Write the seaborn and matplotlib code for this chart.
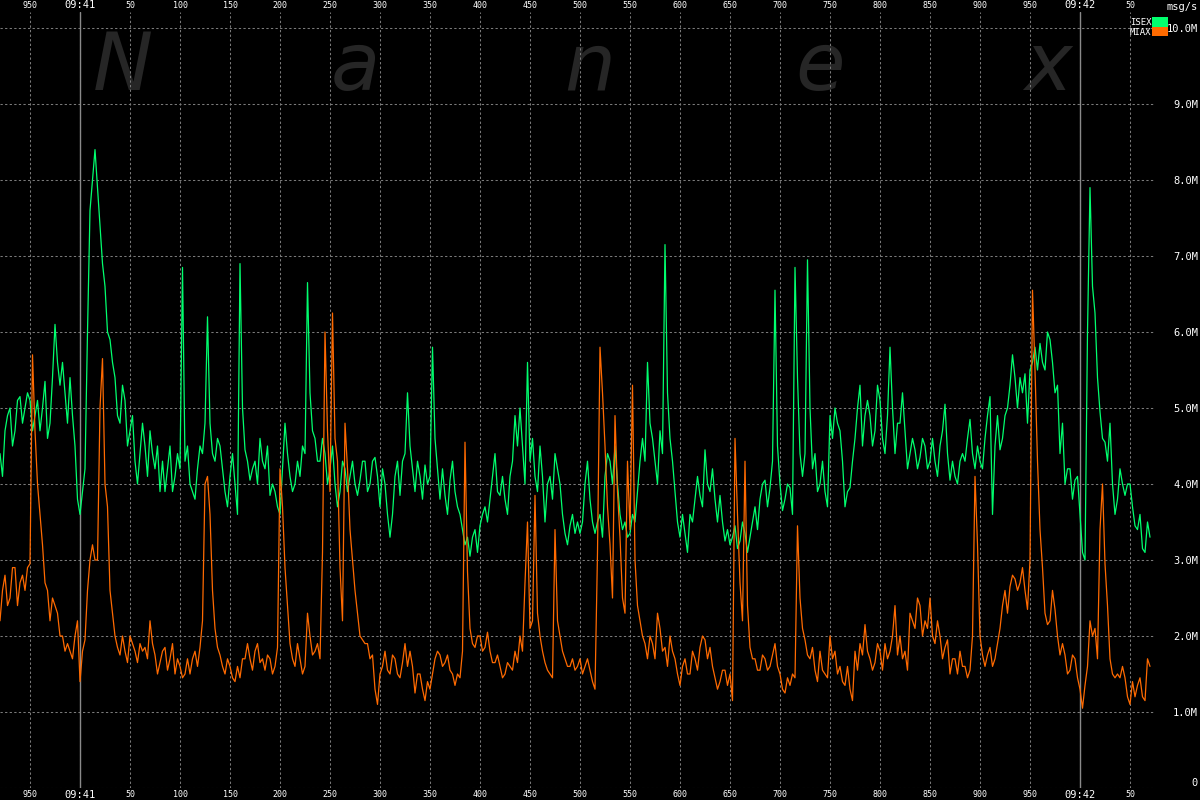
import matplotlib

matplotlib.use("Agg")
import matplotlib.pyplot as plt
import numpy as np
import pandas as pd
import seaborn as sns
from matplotlib.patches import Patch

# ms relative to 09:41:00.000; readings every 5 ms starting at 09:40.920,
# plus a second reading half way between each pair (the in-between wiggle)
START_MS = -80
STEP_MS = 5

# msg/s in millions
isex = [
    4.4, 4.7, 5.0, 4.7, 5.15, 5.0, 5.1, 4.9, 4.7, 5.35,
    4.8, 6.1, 5.3, 5.2, 5.4, 4.5, 3.6, 4.2, 7.6, 8.4,
    7.4, 6.6, 5.9, 5.4, 4.8, 5.1, 4.7, 4.3, 4.4, 4.5,
    4.7, 4.2, 3.9, 3.9, 4.5, 4.1, 4.2, 4.3, 4.0, 3.8,
    4.5, 4.8, 4.8, 4.3, 4.5, 3.9, 4.1, 4.0, 6.9, 4.45,
    4.05, 4.3, 4.6, 4.2, 3.85, 3.9, 3.6, 4.8, 4.1, 4.0,
    4.1, 4.4, 5.2, 4.6, 4.3, 4.4, 4.2, 4.0, 3.9, 4.2,
    4.1, 4.0, 4.05, 4.3, 4.0, 4.35, 3.7, 4.0, 3.3, 4.1,
    3.85, 4.4, 4.5, 3.9, 4.1, 4.25, 4.1, 4.6, 3.8, 3.85,
    4.05, 3.9, 3.6, 3.2, 3.05, 3.4, 3.45, 3.7, 3.8, 4.4,
    3.85, 3.8, 4.1, 4.9, 5.0, 4.0, 4.3, 4.1, 4.5, 3.5,
    4.1, 4.4, 4.0, 3.35, 3.45, 3.35, 3.35, 4.0, 3.8, 3.35,
    3.6, 4.1, 4.3, 4.5, 3.6, 3.5, 3.35, 3.5, 4.3, 4.3,
    4.8, 4.3, 4.7, 7.15, 4.6, 3.9, 3.3, 3.35, 3.6, 3.8,
    3.85, 4.45, 3.9, 3.8, 3.85, 3.25, 3.2, 3.45, 3.25, 3.35,
    3.3, 3.7, 3.8, 4.05, 3.95, 6.55, 4.0, 3.8, 3.95, 6.85,
    4.4, 4.4, 5.0, 4.4, 4.0, 3.9, 4.9, 5.0, 4.7, 3.7,
    3.95, 4.6, 5.3, 4.9, 4.9, 4.7, 5.1, 4.4, 5.8, 4.4,
    4.8, 4.7, 4.4, 4.45, 4.35, 4.5, 4.3, 4.3, 4.5, 5.05,
    4.05, 4.1, 4.3, 4.3, 4.85, 4.2, 4.3, 4.6, 5.15, 4.5,
    4.45, 4.9, 5.3, 5.4, 5.4, 5.45, 5.5, 5.8, 5.85, 5.5,
    5.9, 5.2, 4.4, 4.0, 4.2, 4.05, 3.6, 3.0, 7.9, 6.25,
    4.95, 4.55, 4.8, 3.6, 4.2, 3.85, 4.0, 3.45, 3.6, 3.1, 3.3,
]
isex_mid = [
    4.1, 4.9, 4.5, 5.1, 4.8, 5.2, 4.7, 5.1, 5.0, 4.6,
    5.4, 5.6, 5.6, 4.8, 4.9, 3.8, 3.9, 6.0, 8.0, 7.9,
    6.9, 6.0, 5.6, 4.9, 5.3, 4.5, 4.9, 4.0, 4.8, 4.1,
    4.4, 4.5, 4.3, 4.2, 3.9, 4.4, 6.85, 4.5, 3.9, 4.2,
    4.4, 6.2, 4.4, 4.6, 4.2, 3.7, 4.4, 3.6, 5.0, 4.3,
    4.2, 4.0, 4.3, 4.5, 4.0, 3.7, 4.2, 4.4, 3.9, 4.3,
    4.5, 6.65, 4.7, 4.3, 4.6, 4.0, 4.5, 3.7, 4.3, 3.9,
    4.3, 3.85, 4.3, 3.9, 4.3, 4.1, 4.2, 3.6, 3.6, 4.3,
    4.3, 5.2, 4.2, 4.3, 3.8, 4.0, 5.8, 4.2, 4.2, 3.6,
    4.3, 3.7, 3.4, 3.3, 3.3, 3.1, 3.6, 3.5, 4.1, 3.9,
    4.1, 3.6, 4.3, 4.5, 4.5, 5.6, 4.6, 3.9, 4.1, 4.0,
    3.8, 4.2, 3.6, 3.2, 3.6, 3.5, 3.5, 4.3, 3.5, 3.5,
    3.3, 4.4, 4.0, 4.0, 3.4, 3.3, 3.6, 3.9, 4.6, 5.6,
    4.6, 4.0, 4.4, 5.2, 4.3, 3.5, 3.6, 3.1, 3.5, 4.1,
    3.7, 4.0, 4.2, 3.5, 3.5, 3.4, 3.3, 3.15, 3.5, 3.1,
    3.5, 3.4, 4.0, 3.7, 4.3, 4.5, 3.65, 4.0, 3.6, 5.4,
    4.1, 6.95, 4.2, 3.9, 4.3, 3.7, 4.6, 4.8, 4.3, 3.9,
    4.3, 5.0, 4.5, 5.1, 4.5, 5.3, 4.6, 4.9, 5.0, 4.8,
    5.2, 4.2, 4.6, 4.2, 4.6, 4.2, 4.6, 4.1, 4.7, 4.4,
    4.3, 4.0, 4.4, 4.6, 4.4, 4.5, 4.2, 4.9, 3.6, 4.9,
    4.6, 5.0, 5.7, 5.0, 5.2, 4.8, 5.6, 5.5, 5.6, 6.0,
    5.6, 5.3, 4.8, 4.2, 3.8, 4.1, 3.1, 6.0, 6.6, 5.4,
    4.6, 4.3, 4.0, 3.8, 4.0, 4.0, 3.7, 3.4, 3.15, 3.5,
]
miax = [
    2.2, 2.8, 2.5, 2.9, 2.7, 2.6, 2.95, 4.7, 3.6, 2.7,
    2.2, 2.4, 2.0, 1.8, 1.8, 2.0, 1.4, 1.95, 3.0, 3.0,
    5.0, 4.0, 2.6, 2.0, 1.75, 1.8, 2.0, 1.8, 1.9, 1.85,
    2.2, 1.75, 1.65, 1.85, 1.7, 1.5, 1.6, 1.5, 1.5, 1.8,
    1.85, 4.0, 3.6, 2.1, 1.75, 1.5, 1.6, 1.4, 1.45, 1.7,
    1.7, 1.8, 1.65, 1.55, 1.7, 1.6, 4.2, 2.9, 1.9, 1.6,
    1.7, 1.6, 2.0, 1.8, 1.7, 6.0, 3.9, 4.6, 2.9, 4.8,
    3.4, 2.6, 2.0, 1.9, 1.7, 1.3, 1.5, 1.8, 1.5, 1.7,
    1.45, 1.9, 1.8, 1.25, 1.5, 1.15, 1.3, 1.7, 1.75, 1.65,
    1.55, 1.35, 1.45, 4.55, 2.1, 1.85, 2.0, 1.85, 1.8, 1.65,
    1.6, 1.5, 1.6, 1.8, 2.0, 2.7, 2.1, 3.85, 2.0, 1.65,
    1.5, 3.4, 2.0, 1.7, 1.6, 1.55, 1.7, 1.6, 1.55, 1.3,
    5.8, 4.5, 3.2, 4.9, 3.3, 2.3, 3.4, 3.0, 2.2, 1.9,
    2.0, 1.7, 2.1, 1.85, 2.0, 1.7, 1.35, 1.7, 1.5, 1.7,
    1.85, 1.95, 1.85, 1.45, 1.4, 1.55, 1.5, 4.6, 2.7, 4.3,
    1.85, 1.7, 1.55, 1.7, 1.6, 1.9, 1.5, 1.25, 1.35, 1.45,
    2.5, 1.95, 1.7, 1.55, 1.8, 1.5, 2.0, 1.8, 1.6, 1.35,
    1.3, 1.8, 1.9, 2.15, 1.7, 1.65, 1.8, 1.9, 1.8, 2.4,
    2.0, 1.8, 2.3, 2.1, 2.4, 2.2, 2.5, 1.9, 2.0, 1.85,
    1.5, 1.7, 1.8, 1.6, 1.55, 4.1, 2.0, 1.6, 1.85, 1.7,
    2.1, 2.6, 2.65, 2.75, 2.7, 2.6, 3.0, 5.5, 3.4, 2.3,
    2.2, 2.35, 1.75, 1.75, 1.55, 1.7, 1.3, 1.35, 2.2, 2.1,
    3.4, 2.95, 1.7, 1.45, 1.45, 1.45, 1.1, 1.2, 1.45, 1.15, 1.6,
]
miax_mid = [
    2.6, 2.4, 2.9, 2.4, 2.8, 2.9, 5.7, 4.0, 3.2, 2.6,
    2.5, 2.3, 2.0, 1.9, 1.7, 2.2, 1.8, 2.6, 3.2, 3.0,
    5.65, 3.7, 2.3, 1.85, 2.0, 1.65, 1.9, 1.65, 1.8, 1.7,
    1.9, 1.5, 1.8, 1.55, 1.9, 1.7, 1.45, 1.7, 1.7, 1.6,
    2.2, 4.1, 2.6, 1.85, 1.6, 1.7, 1.45, 1.6, 1.7, 1.9,
    1.55, 1.9, 1.7, 1.75, 1.5, 1.85, 3.7, 2.4, 1.7, 1.9,
    1.5, 2.3, 1.75, 1.9, 3.1, 4.7, 6.25, 4.3, 2.2, 4.2,
    3.0, 2.3, 1.95, 1.9, 1.75, 1.1, 1.6, 1.55, 1.75, 1.5,
    1.65, 1.6, 1.6, 1.5, 1.3, 1.4, 1.5, 1.8, 1.6, 1.75,
    1.5, 1.5, 1.8, 2.85, 1.9, 2.0, 1.8, 2.05, 1.65, 1.75,
    1.45, 1.65, 1.55, 1.65, 1.8, 3.5, 2.2, 2.3, 1.8, 1.55,
    1.45, 2.2, 1.8, 1.6, 1.7, 1.6, 1.5, 1.7, 1.4, 3.1,
    5.2, 3.7, 2.5, 3.9, 2.5, 4.3, 5.3, 2.4, 2.0, 1.7,
    1.9, 2.3, 1.8, 1.6, 1.8, 1.5, 1.6, 1.5, 1.8, 1.55,
    2.0, 1.7, 1.6, 1.3, 1.55, 1.35, 1.15, 3.6, 2.2, 2.4,
    1.7, 1.55, 1.75, 1.55, 1.75, 1.6, 1.3, 1.45, 1.5, 3.45,
    2.1, 1.75, 1.85, 1.4, 1.55, 1.45, 1.7, 1.5, 1.4, 1.6,
    1.15, 1.55, 1.75, 1.8, 1.55, 1.9, 1.55, 1.7, 2.0, 1.75,
    1.7, 1.55, 2.2, 2.5, 2.0, 2.1, 2.0, 2.2, 1.7, 1.95,
    1.7, 1.5, 1.6, 1.45, 2.0, 3.2, 1.75, 1.75, 1.6, 1.9,
    2.4, 2.3, 2.8, 2.6, 2.9, 2.35, 6.55, 4.3, 2.9, 2.15,
    2.6, 2.0, 1.9, 1.5, 1.75, 1.45, 1.05, 1.6, 2.0, 1.7,
    4.0, 2.4, 1.5, 1.5, 1.6, 1.2, 1.4, 1.35, 1.2, 1.7,
]

feeds = ["ISEX", "MIAX"]
feed_colors = ["#00ff6e", "#ff6a00"]

tick_ms = [-50, 0, 50, 100, 150, 200, 250, 300, 350, 400, 450, 500,
           550, 600, 650, 700, 750, 800, 850, 900, 950, 1000, 1050]
tick_labels = ["950", "09:41", "50", "100", "150", "200", "250", "300", "350",
               "400", "450", "500", "550", "600", "650", "700", "750", "800",
               "850", "900", "950", "09:42", "50"]
second_marks = [0, 1000]

y_ticks = [0, 1, 2, 3, 4, 5, 6, 7, 8, 9, 10]
y_labels = ["0", "1.0M", "2.0M", "3.0M", "4.0M", "5.0M", "6.0M", "7.0M",
            "8.0M", "9.0M", "10.0M"]

watermark = ["N", "a", "n", "e", "x"]
watermark_x = [123, 355, 590, 820, 1048]  # pixel centres

W, H = 1200, 800
AX_RIGHT = 1155
AX_TOP = 12
AX_BOTTOM = 788


def interleave(on_step, between):
    out = np.empty(len(on_step) + len(between))
    out[0::2] = on_step
    out[1::2] = between
    return out


isex_all = interleave(isex, isex_mid)
miax_all = interleave(miax, miax_mid)
ms = START_MS + (STEP_MS / 2) * np.arange(len(isex_all))

df = pd.DataFrame({
    "ms": np.concatenate([ms, ms]),
    "rate": np.concatenate([isex_all, miax_all]),
    "feed": ["ISEX"] * len(ms) + ["MIAX"] * len(ms),
})

sns.set_style("dark", {"axes.facecolor": "black", "figure.facecolor": "black"})
plt.rcParams["font.family"] = ["DejaVu Sans Mono", "DejaVu Sans"]

fig = plt.figure(figsize=(12, 8), dpi=100, facecolor="black")
ax = fig.add_axes([0, 1 - AX_BOTTOM / H, AX_RIGHT / W, (AX_BOTTOM - AX_TOP) / H])
ax.set_facecolor("black")

sns.lineplot(
    data=df, x="ms", y="rate", hue="feed", hue_order=feeds,
    palette=dict(zip(feeds, feed_colors)), linewidth=0.9,
    estimator=None, sort=False, legend=False, ax=ax, zorder=3,
)

ax.set_xlim(START_MS, START_MS + AX_RIGHT)
ax.set_ylim(0, (AX_BOTTOM - AX_TOP) / 76)
for s in ax.spines.values():
    s.set_visible(False)

# dashed grid, solid markers at whole seconds
ax.set_xticks(tick_ms)
ax.set_yticks(y_ticks)
ax.grid(True, color="#7a7a7a", linestyle=(0, (2.2, 2.2)), linewidth=0.75)
ax.set_axisbelow(True)
for m in second_marks:
    ax.axvline(m, color="#8a8a8a", lw=1.0, zorder=1)

ax.set_xticklabels(tick_labels, fontsize=6, color="white", family="DejaVu Sans Mono")
ax.tick_params(axis="x", length=0, labeltop=True, labelbottom=True, pad=1.5)
for tick, lab in zip(ax.xaxis.get_major_ticks(), tick_labels):
    if ":" in lab:
        tick.label1.set_fontsize(7.5)
        tick.label2.set_fontsize(7.5)

ax.yaxis.tick_right()
ax.set_yticklabels(y_labels, fontsize=7.5, color="white", family="DejaVu Sans Mono", ha="right")
ax.tick_params(axis="y", length=0, pad=(W - 2 - AX_RIGHT) * 0.72)
ax.yaxis.get_major_ticks()[0].label2.set_verticalalignment("bottom")
ax.set_xlabel("")
ax.set_ylabel("")

# watermark
for letter, px in zip(watermark, watermark_x):
    ax.text(px / AX_RIGHT, (AX_BOTTOM - 90) / (AX_BOTTOM - AX_TOP), letter,
            transform=ax.transAxes, ha="center", va="baseline",
            fontsize=58, style="italic", family="DejaVu Sans",
            color="#262626", zorder=0.2)

fig.text(1198 / W, 1 - 7 / H, "msg/s", ha="right", va="center",
         color="white", fontsize=7.5, family="DejaVu Sans Mono")

handles = [Patch(facecolor=c, edgecolor="none", label=n) for n, c in zip(feeds, feed_colors)]
fig.legend(
    handles=handles, loc="upper right",
    bbox_to_anchor=(1168 / W, 1 - 17 / H), bbox_transform=fig.transFigure,
    frameon=False, markerfirst=False, borderpad=0, borderaxespad=0,
    labelspacing=0, handlelength=1.75, handleheight=1.25, handletextpad=0.1,
    prop={"family": "DejaVu Sans Mono", "size": 6.5}, labelcolor="white",
)

fig.savefig("out.png", dpi=100, facecolor="black")
